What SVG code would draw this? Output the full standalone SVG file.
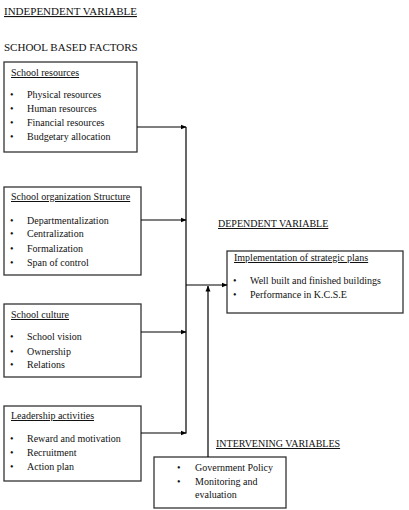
<svg xmlns="http://www.w3.org/2000/svg" width="409" height="510" viewBox="0 0 409 510">
<defs>
<marker id="ah" markerWidth="6" markerHeight="6" refX="5.5" refY="3" orient="auto" markerUnits="userSpaceOnUse">
<path d="M0,0.5 L6,3 L0,5.5 z" fill="#000"/>
</marker>
<style>
text{font-family:"Liberation Serif","Times New Roman",serif;fill:#111;}
.h{font-size:11px;}
.u{text-decoration:underline;}
.t{font-size:10px;}
.box{fill:#fff;stroke:#333;stroke-width:1.3;}
.ln{stroke:#000;stroke-width:1.2;fill:none;}
.ar{stroke:#000;stroke-width:1.2;fill:none;marker-end:url(#ah);}
</style>
</defs>
<rect width="409" height="510" fill="#fff"/>
<text class="h u" x="4" y="15">INDEPENDENT VARIABLE</text>
<text class="h" x="4" y="51">SCHOOL BASED FACTORS</text>
<text class="t u" x="218" y="227">DEPENDENT VARIABLE</text>
<text class="t u" x="216" y="447">INTERVENING VARIABLES</text>

<g id="school-resources">
<rect class="box" x="4" y="62" width="133" height="90"/>
<text class="t u" x="11" y="76">School resources</text>
<text class="t" x="10" y="98">•</text><text class="t" x="27" y="98">Physical resources</text>
<text class="t" x="10" y="112">•</text><text class="t" x="27" y="112">Human resources</text>
<text class="t" x="10" y="126">•</text><text class="t" x="27" y="126">Financial resources</text>
<text class="t" x="10" y="140">•</text><text class="t" x="27" y="140">Budgetary allocation</text>
</g>

<g id="school-organization">
<rect class="box" x="4" y="187" width="137" height="88"/>
<text class="t u" x="11" y="200">School organization  Structure</text>
<text class="t" x="10" y="224">•</text><text class="t" x="27" y="224">Departmentalization</text>
<text class="t" x="10" y="237">•</text><text class="t" x="27" y="237">Centralization</text>
<text class="t" x="10" y="252">•</text><text class="t" x="27" y="252">Formalization</text>
<text class="t" x="10" y="266">•</text><text class="t" x="27" y="266">Span of control</text>
</g>

<g id="school-culture">
<rect class="box" x="4" y="304" width="137" height="73"/>
<text class="t u" x="11" y="318">School culture</text>
<text class="t" x="10" y="340">•</text><text class="t" x="27" y="340">School vision</text>
<text class="t" x="10" y="355">•</text><text class="t" x="27" y="355">Ownership</text>
<text class="t" x="10" y="368">•</text><text class="t" x="27" y="368">Relations</text>
</g>

<g id="leadership">
<rect class="box" x="4" y="406" width="137" height="75"/>
<text class="t u" x="11" y="419">Leadership  activities</text>
<text class="t" x="10" y="442">•</text><text class="t" x="27" y="442">Reward and  motivation</text>
<text class="t" x="10" y="456">•</text><text class="t" x="27" y="456">Recruitment</text>
<text class="t" x="10" y="470">•</text><text class="t" x="27" y="470">Action plan</text>
</g>

<g id="implementation">
<rect class="box" x="227" y="251" width="176" height="62"/>
<text class="t u" x="234" y="261">Implementation of strategic  plans</text>
<text class="t" x="233" y="284">•</text><text class="t" x="250" y="284">Well built and finished  buildings</text>
<text class="t" x="233" y="298">•</text><text class="t" x="250" y="298">Performance  in K.C.S.E</text>
</g>

<g id="intervening">
<rect class="box" x="154" y="457" width="132" height="51"/>
<text class="t" x="177" y="471">•</text><text class="t" x="195" y="471">Government  Policy</text>
<text class="t" x="177" y="485">•</text><text class="t" x="195" y="485">Monitoring and</text>
<text class="t" x="195" y="498">evaluation</text>
</g>

<g id="connectors">
<line class="ln" x1="186" y1="127" x2="186" y2="433.6"/>
<line class="ar" x1="137" y1="127" x2="186" y2="127"/>
<line class="ar" x1="141" y1="220" x2="186" y2="220"/>
<line class="ar" x1="141" y1="332" x2="186" y2="332"/>
<line class="ar" x1="141" y1="433" x2="186" y2="433"/>
<line class="ar" x1="186" y1="285" x2="227" y2="285"/>
<line class="ar" x1="208" y1="457" x2="208" y2="286"/>
</g>
</svg>
